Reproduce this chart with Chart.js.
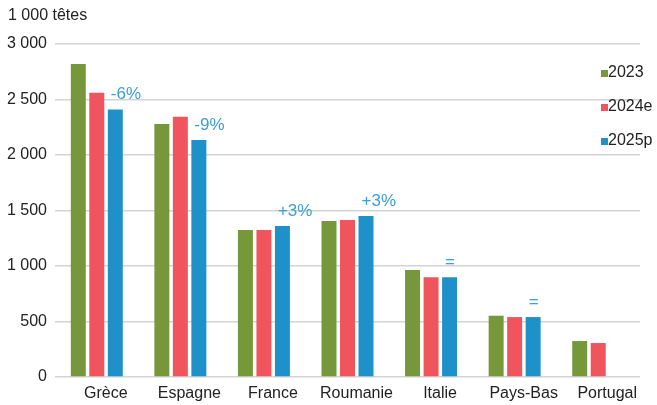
<!DOCTYPE html>
<html><head><meta charset="utf-8">
<script src="https://cdn.jsdelivr.net/npm/chart.js@4/dist/chart.umd.min.js"></script>
<style>html,body{margin:0;padding:0;background:#fff}#wrap{width:657px;height:405px;position:relative}</style>
</head><body><div id="wrap"><canvas id="c" width="657" height="405"></canvas></div>
<script>
const categories = ['Grèce','Espagne','France','Roumanie','Italie','Pays-Bas','Portugal'];
const seriesNames = ['2023','2024e','2025p'];
const values2023 = [2820, 2280, 1325, 1405, 965, 552, 324];
const values2024 = [2560, 2345, 1325, 1414, 898, 540, 306];
const values2025 = [2410, 2135, 1360, 1450, 898, 540, null];
const changeLabels = ['-6%','-9%','+3%','+3%','=','=',''];
const unitLabel = '1 000 têtes';
const yTicks = [0, 500, 1000, 1500, 2000, 2500, 3000];

const colors = ['#76983b', '#f0555e', '#1d91c8'];
const FONT = "'Liberation Sans', Arial, sans-serif";

const fmt = v => String(v).replace(/\B(?=(\d{3})+(?!\d))/g, ' ');

const overlay = {
  id: 'overlay',
  afterDraw(chart) {
    const ctx = chart.ctx;
    ctx.save();
    // unit label
    ctx.font = '16px ' + FONT;
    ctx.fillStyle = '#222';
    ctx.textBaseline = 'middle';
    ctx.textAlign = 'left';
    ctx.fillText(unitLabel, 8, 16);
    // change annotations above 2025 bars
    const meta = chart.getDatasetMeta(2);
    ctx.font = '17px ' + FONT;
    ctx.fillStyle = '#3a9fd8';
    meta.data.forEach((bar, i) => {
      const t = changeLabels[i];
      if (!t || values2025[i] == null) return;
      ctx.fillText(t, bar.x - bar.width / 2 + 3, bar.y - 15);
    });
    // legend
    ctx.font = '16px ' + FONT;
    ctx.fillStyle = '#222';
    chart.data.datasets.forEach((ds, i) => {
      const y = 73 + i * 34;
      ctx.fillStyle = ds.backgroundColor;
      ctx.fillRect(601, y - 3, 7, 7);
      ctx.fillStyle = '#222';
      ctx.fillText(ds.label, 608, y);
    });
    ctx.restore();
  }
};

new Chart(document.getElementById('c'), {
  type: 'bar',
  data: {
    labels: categories,
    datasets: [
      { label: seriesNames[0], data: values2023, backgroundColor: colors[0] },
      { label: seriesNames[1], data: values2024, backgroundColor: colors[1] },
      { label: seriesNames[2], data: values2025, backgroundColor: colors[2] }
    ]
  },
  options: {
    responsive: false,
    animation: false,
    devicePixelRatio: 1,
    layout: { padding: { top: 44, right: 17, left: 0, bottom: 0 } },
    datasets: { bar: { categoryPercentage: 0.664, barPercentage: 0.81 } },
    plugins: { legend: { display: false }, tooltip: { enabled: false } },
    scales: {
      x: {
        grid: { display: false, drawTicks: false },
        border: { display: false },
        ticks: { font: { size: 16, family: FONT }, color: '#222', padding: 7, labelOffset: 9, maxRotation: 0, autoSkip: false },
        afterFit(s) { s.height = 28; }
      },
      y: {
        min: 0, max: 3000,
        afterBuildTicks(s) { s.ticks = yTicks.map(v => ({ value: v })); },
        grid: { color: '#d4d4d4', lineWidth: 1.5, drawTicks: false },
        border: { display: false },
        ticks: { font: { size: 16, family: FONT }, color: '#222', padding: 8, callback: v => fmt(v) },
        afterFit(s) { s.width = 55; }
      }
    }
  },
  plugins: [overlay]
});
</script></body></html>
